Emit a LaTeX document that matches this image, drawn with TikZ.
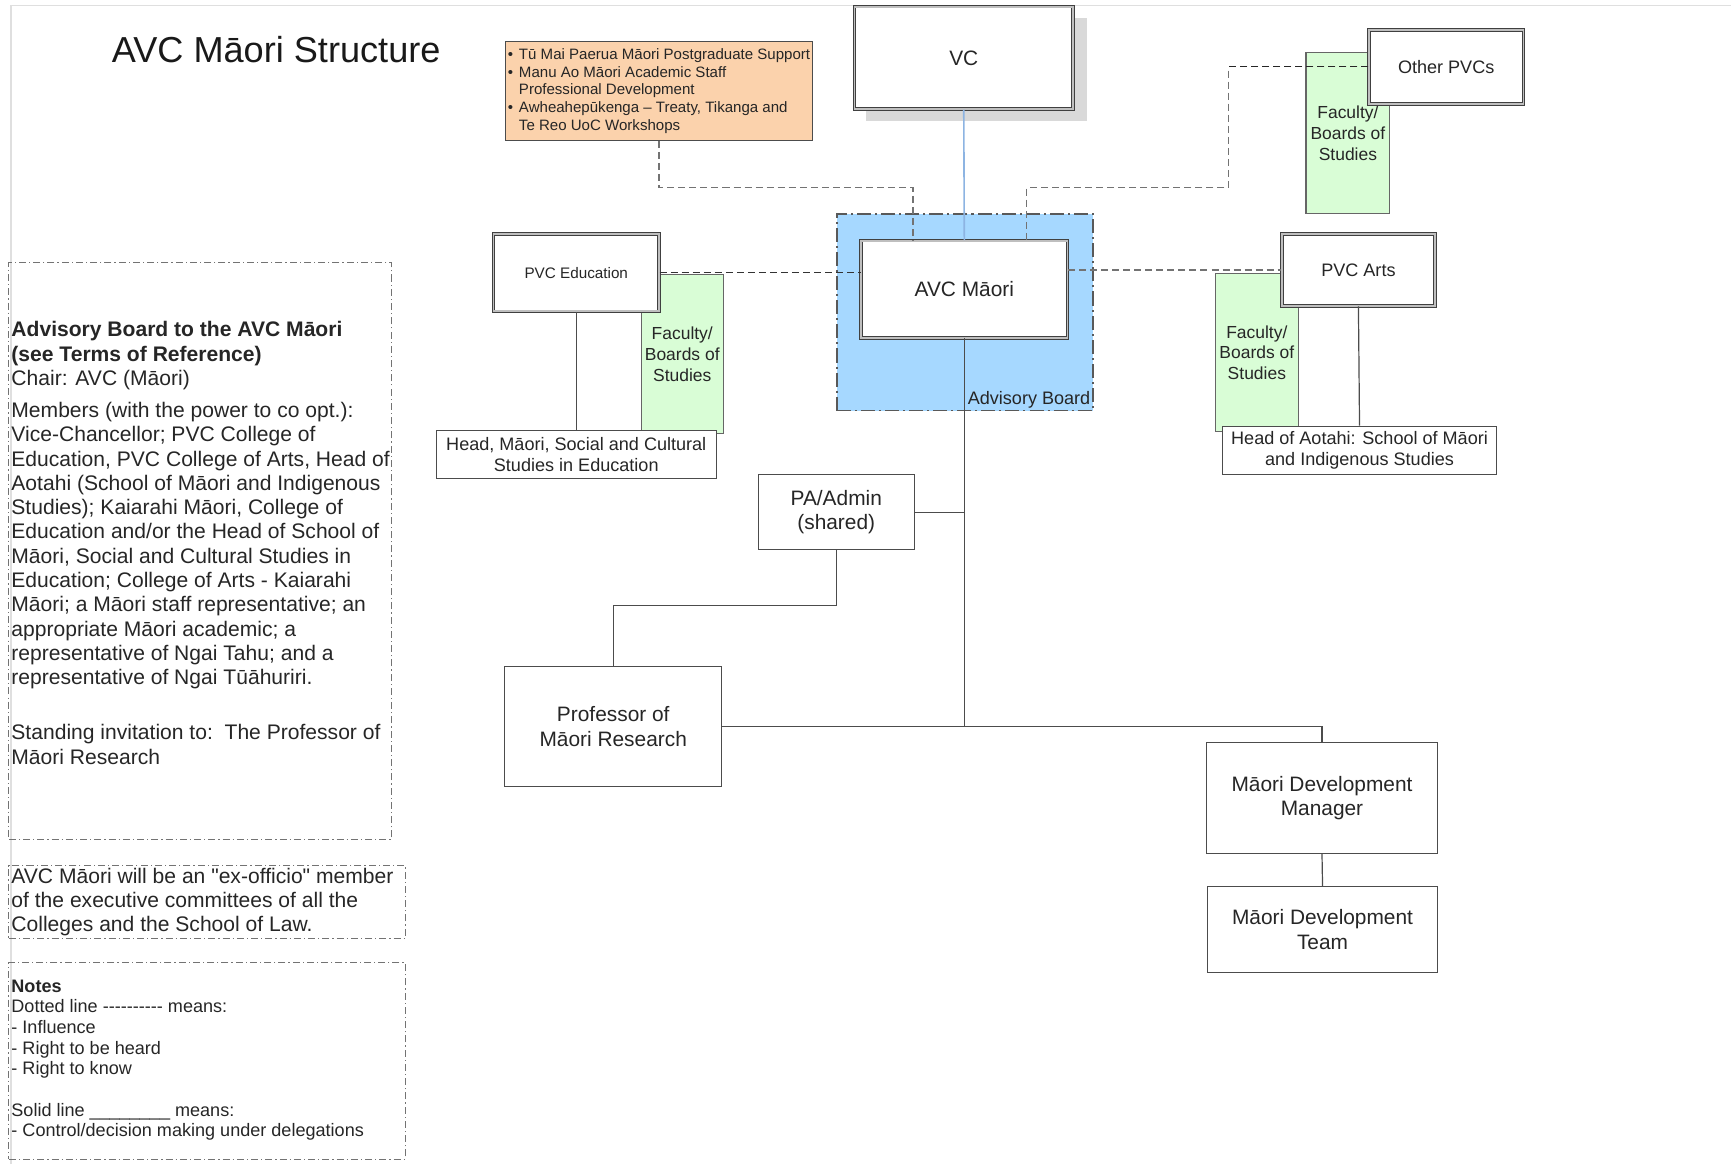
\documentclass[tikz,border=0pt]{standalone}
\usepackage{fontspec}
\setmainfont{Liberation Sans}
\usetikzlibrary{calc,fit}
\definecolor{peach}{RGB}{251,210,172}
\definecolor{advblue}{RGB}{166,216,255}
\definecolor{facgreen}{RGB}{217,253,214}
\definecolor{vcblue}{RGB}{141,180,226}
\newcommand{\setfs}[2]{\fontsize{#1}{#2}\selectfont}

\begin{document}
\begin{tikzpicture}[x=0.55pt, y=-0.55pt,
  box/.style={draw=black!70, line width=0.5pt, fill=white, inner sep=0pt},
  dbox/.style={box, draw=black!75, double=gray!50, double distance=0.9pt, line width=0.45pt},
  facbox/.style={box, fill=facgreen, draw=black!60},
  lbl/.style={inner sep=0pt, align=center, text=black!85, font=\setfs{10.4}{12.1}},
  small/.style={lbl, font=\setfs{9}{10.4}},
  advbox/.style={fill=advblue, draw=black!65, line width=0.8pt, dash pattern=on 7pt off 2pt on 1pt off 2pt, inner sep=0pt},
  note/.style={draw=black!55, line width=0.5pt, dash pattern=on 3.5pt off 1.5pt on 0.6pt off 1.5pt, inner sep=0pt},
  notetext/.style={anchor=north west, inner sep=0pt, align=left, text=black!85},
  ctrl/.style={draw=black!70, line width=0.6pt},
  infl/.style={draw=black!55, line width=0.6pt, dash pattern=on 3.5pt off 2pt},
]
\useasboundingbox (0,0) rectangle (1568,1054.4);
\draw[gray!25, line width=0.6pt] (10,1054.4) -- (10,5) -- (1568,5);
\node[anchor=base west, inner sep=0pt, font=\setfs{18}{20}, text=black!90] (title) at (101,57) {AVC Māori Structure};

% notes on the left
\node[note, fit={(8,238) (355,760)}] (boardbox) {};
\node[notetext, font=\setfs{10.5}{12.1}] (boardtext) at (10,291) {\textbf{Advisory Board to the AVC Māori}\\
  \textbf{(see Terms of Reference)}\\
  Chair: AVC (Māori)\\[3.8pt]
  Members (with the power to co opt.):\\
  Vice-Chancellor; PVC College of\\
  Education, PVC College of Arts, Head of\\
  Aotahi (School of Māori and Indigenous\\
  Studies); Kaiarahi Māori, College of\\
  Education and/or the Head of School of\\
  Māori, Social and Cultural Studies in\\
  Education; College of Arts - Kaiarahi\\
  Māori; a Māori staff representative; an\\
  appropriate Māori academic; a\\
  representative of Ngai Tahu; and a\\
  representative of Ngai Tūāhuriri.\\[15.4pt]
  Standing invitation to:\ \ The Professor of\\
  Māori Research};
\node[note, fit={(8,784) (367,850)}] (exbox) {};
\node[notetext, font=\setfs{10.5}{12.1}] (extext) at (10,786) {AVC Māori will be an \textquotedbl ex-officio\textquotedbl\ member\\
  of the executive committees of all the\\
  Colleges and the School of Law.};
\node[note, fit={(8,872) (367,1050)}] (notesbox) {};
\node[notetext, font=\setfs{9}{10.3}] (notestext) at (10,887) {\textbf{Notes}\\
  Dotted line -{}-{}-{}-{}-{}-{}-{}-{}-{}- means:\\
  - Influence\\
  - Right to be heard\\
  - Right to know\\[10.3pt]
  Solid line \_\_\_\_\_\_\_\_ means:\\
  - Control/decision making under delegations};

% chart
\fill[gray!30] (784,16) rectangle (985,110);
\node[dbox, fit={(774,6) (972,99)}, label={[lbl]center:VC}] (vc) {};
\node[box, fill=peach, fit={(458,38) (736,127)}, label={[lbl, align=left, font=\setfs{7.5}{8.8}]center:{%
  \makebox[5.5pt][l]{•}Tū Mai Paerua Māori Postgraduate Support\\
  \makebox[5.5pt][l]{•}Manu Ao Māori Academic Staff\\
  \hspace*{5.5pt}Professional Development\\
  \makebox[5.5pt][l]{•}Awheahepūkenga – Treaty, Tikanga and\\
  \hspace*{5.5pt}Te Reo UoC Workshops}}] (tumai) {};
\node[advbox, fit={(758,194) (990,372)}] (adv) {};
\node[anchor=south east, inner sep=1.5pt, font=\setfs{9}{10}, text=black!85] (advlabel) at (adv.south east) {Advisory Board};
\node[facbox, fit={(1183,48) (1259,193)}, label={[lbl, font=\setfs{8.7}{10.4}]center:{Faculty/\\Boards of\\Studies}}] (facother) {};
\node[facbox, fit={(581,249) (655,393)}, label={[lbl, font=\setfs{8.7}{10.4}]center:{Faculty/\\Boards of\\Studies}}] (faced) {};
\node[facbox, fit={(1101,248) (1176,391)}, label={[lbl, font=\setfs{8.7}{10.4}]center:{Faculty/\\Boards of\\Studies}}] (facarts) {};
\node[dbox, fit={(1240,27) (1380,94)}, label={[small]center:Other PVCs}] (pvcs) {};
\node[dbox, fit={(780,218) (967,306)}, label={[lbl]center:{AVC Māori}}] (avc) {};
\node[dbox, fit={(447,212) (597,282)}, label={[lbl, font=\setfs{7.6}{9}]center:{PVC Education}}] (pvced) {};
\node[dbox, fit={(1161,212) (1300,277)}, label={[small]center:{PVC Arts}}] (pvcarts) {};
\node[box, fit={(395,390) (649,433)}, label={[small]center:{Head, Māori, Social and Cultural\\Studies in Education}}] (headed) {};
\node[box, fit={(1107,386) (1356,430)}, label={[small]center:{Head of Aotahi: School of Māori\\and Indigenous Studies}}] (headao) {};
\node[box, fit={(687,430) (828,498)}, label={[lbl]center:{PA/Admin\\(shared)}}] (pa) {};
\node[box, fit={(457,604) (654,712)}, label={[lbl]center:{Professor of\\Māori Research}}] (prof) {};
\node[box, fit={(1093,673) (1302,773)}, label={[lbl]center:{Māori Development\\Manager}}] (mgr) {};
\node[box, fit={(1094,803) (1302,881)}, label={[lbl]center:{Māori Development\\Team}}] (team) {};

% dotted lines
\coordinate (lj) at (827,170);
\coordinate (rj) at (1113,170);
\coordinate (rk) at (930,170);
\draw[infl] (tumai.south) |- (lj) -- (lj |- avc.north);
\draw[infl] (pvcs.west) -| (rj) -- (rk) -- (rk |- avc.north);
\draw[infl, draw=black!85] (pvcs.west) -- (pvcs.west -| rj);
\draw[infl, draw=black!80] (pvced.east) -- (pvced.east -| avc.west);
\draw[infl] (avc.east |- pvcarts.west) -- (pvcarts.west);

% solid lines
\draw[vcblue, line width=0.8pt] (vc.south) -- (avc.north);
\draw[ctrl] (avc.south) -- (avc.south |- prof.east);
\draw[ctrl] (prof.east) -| (mgr.north);
\draw[ctrl] (pa.east) -- (pa.east -| avc.south);
\draw[ctrl] (pa.south) -- ++(0,50) -| (prof.north);
\draw[ctrl] (mgr.south) -- (team.north);
\draw[ctrl] (pvced.south) -- (headed.north);
\draw[ctrl] (pvcarts.south) -- (headao.north);
\end{tikzpicture}
\end{document}
